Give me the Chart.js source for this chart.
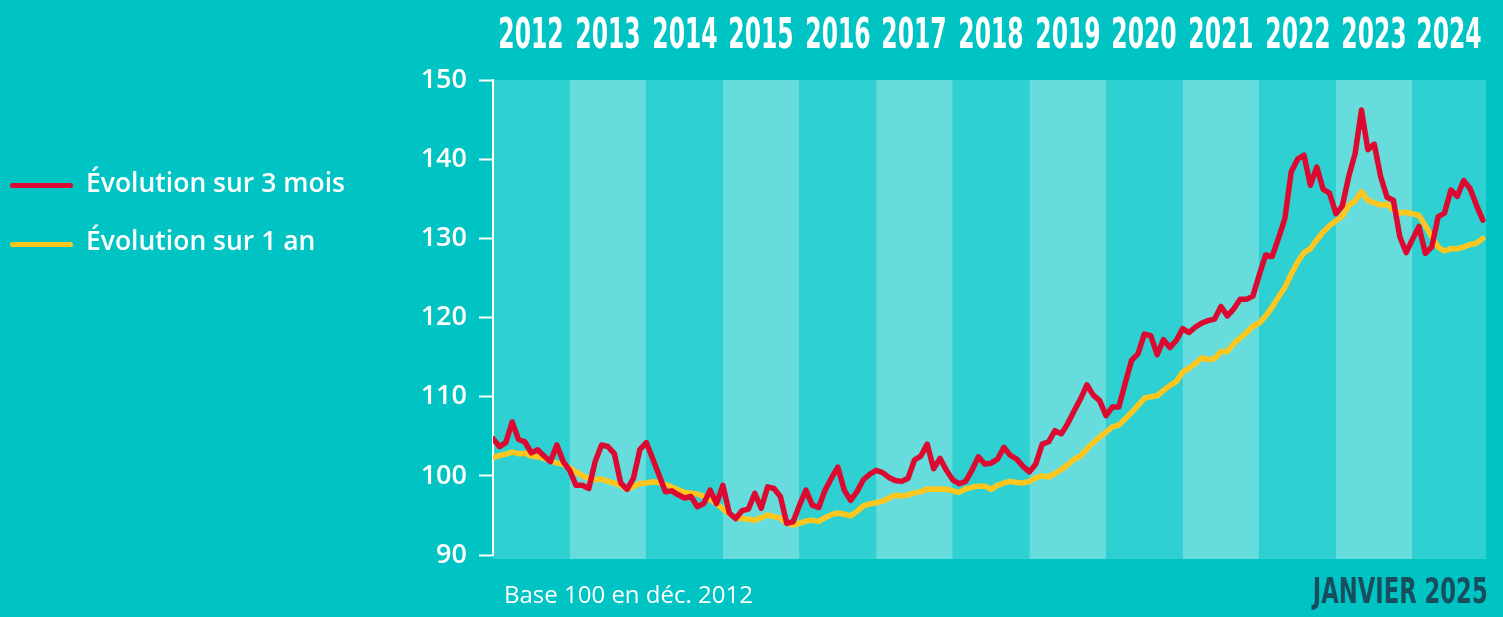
<!DOCTYPE html>
<html lang="fr">
<head>
<meta charset="utf-8">
<title>Évolution</title>
<script src="https://cdn.jsdelivr.net/npm/chart.js"></script>
<style>
html, body { margin: 0; padding: 0; background: #00c4c4; }
#wrap { position: relative; width: 1503px; height: 617px; overflow: hidden; font-family: "Open Sans", sans-serif; color: #fff; }
#wrap canvas { position: absolute; left: 0; top: 0; }
.legline { position: absolute; left: 10px; width: 63px; height: 5px; border-radius: 3px; }
.legtxt { position: absolute; left: 86px; font-size: 26.5px; font-weight: 600; line-height: 30px; white-space: nowrap; }
.cond { position: absolute; font-family: "DejaVu Sans", sans-serif; font-weight: bold; white-space: nowrap; }
.year { top: 13px; width: 120px; text-align: center; font-size: 42px; line-height: 42px; transform: scaleX(0.56); transform-origin: center center; }
#date { right: 15px; top: 573px; font-size: 36px; line-height: 36px; color: #174d5d; transform: scaleX(0.63); transform-origin: right center; }
#base { position: absolute; left: 504px; top: 582px; font-size: 24px; line-height: 24px; white-space: nowrap; }
</style>
</head>
<body>
<div id="wrap">
  <canvas id="myChart" width="1503" height="617"></canvas>
  <div class="legline" style="top:182.5px;background:#dc0a30"></div>
  <div class="legtxt" style="top:167px">Évolution sur 3 mois</div>
  <div class="legline" style="top:241.5px;background:#ffc61e"></div>
  <div class="legtxt" style="top:225px">Évolution sur 1 an</div>
  <div id="base">Base 100 en déc. 2012</div>
  <div id="date" class="cond">JANVIER 2025</div>
</div>
<script>
var years = ['2012','2013','2014','2015','2016','2017','2018','2019','2020','2021','2022','2023','2024']

// indice mensuel, évolution sur 3 mois (déc. 2012 = 100)
var evol3mois = [
  104.7,103.7,104.2,106.8,104.6,104.3,102.9,103.3,102.5,101.8,103.9,101.8,
  100.7,98.8,98.8,98.4,101.8,103.9,103.7,102.8,99.1,98.3,99.7,103.3,
  104.2,102.2,100.1,98.0,98.1,97.6,97.2,97.4,96.1,96.5,98.2,96.5,
  98.8,95.3,94.6,95.6,95.8,97.8,95.9,98.6,98.4,97.4,94.0,94.2,
  96.3,98.2,96.3,96.0,98.2,99.7,101.1,98.2,96.9,98.0,99.5,100.2,
  100.7,100.4,99.8,99.4,99.3,99.7,102.0,102.5,104.0,100.9,102.2,100.7,
  99.5,99.0,99.3,100.7,102.4,101.5,101.6,102.1,103.6,102.6,102.1,101.2,
  100.5,101.5,104.0,104.3,105.7,105.3,106.6,108.2,109.7,111.5,110.2,109.5,
  107.6,108.7,108.7,111.7,114.6,115.4,117.9,117.7,115.3,117.2,116.2,117.1,
  118.6,118.1,118.8,119.3,119.6,119.8,121.4,120.2,121.1,122.3,122.3,122.7,
  125.4,127.9,127.7,130.0,132.5,138.4,140.0,140.5,136.7,139.0,136.2,135.7,
  133.1,134.1,137.8,140.7,146.2,141.2,141.9,137.8,135.2,134.8,130.2,128.2,
  129.9,131.5,128.1,128.9,132.7,133.2,136.1,135.3,137.3,136.3,134.2,132.3
]

// évolution sur 1 an
var evol1an = [
  102.3,102.55,102.75,103.0,102.8,102.85,102.5,102.4,102.2,101.9,101.6,101.45,
  101.0,100.5,100.0,99.65,99.5,99.6,99.3,99.1,98.8,98.3,98.65,99.05,
  99.1,99.25,99.15,98.9,98.6,98.25,97.9,97.8,97.7,97.4,97.0,96.5,
  95.8,95.2,94.7,94.6,94.5,94.4,94.7,95.05,94.85,94.65,94.0,93.8,
  94.0,94.3,94.4,94.25,94.7,95.1,95.3,95.15,94.95,95.5,96.2,96.45,
  96.6,96.8,97.2,97.55,97.45,97.6,97.85,98.0,98.35,98.3,98.35,98.3,
  98.1,97.9,98.35,98.55,98.7,98.7,98.3,98.8,99.1,99.3,99.15,99.1,
  99.3,99.75,100.0,99.85,100.3,100.8,101.4,102.1,102.5,103.4,104.2,104.9,
  105.5,106.2,106.4,107.2,108.0,108.9,109.8,110.0,110.1,110.8,111.4,111.9,
  113.1,113.6,114.2,114.9,114.7,114.8,115.7,115.7,116.7,117.4,118.1,118.9,
  119.3,120.2,121.3,122.6,123.8,125.5,127.0,128.2,128.7,129.8,130.8,131.6,
  132.2,132.8,134.2,134.7,135.9,134.8,134.5,134.2,134.3,133.6,133.2,133.3,
  133.1,132.9,131.6,130.2,128.9,128.4,128.7,128.7,128.9,129.2,129.4,130.0
]

var yMin = 90, yMax = 150, yStep = 10
var xMax = 155.5

const bandes = {
  id: 'bandes',
  beforeDraw(chart) {
    const ctx = chart.ctx, x = chart.scales.x, area = chart.chartArea
    ctx.save()
    for (let k = 0; k < years.length; k++) {
      const x0 = x.getPixelForValue(12 * k)
      const x1 = x.getPixelForValue(Math.min(12 * k + 12, xMax))
      ctx.fillStyle = k % 2 ? '#67dcdc' : '#2ed0d2'
      ctx.fillRect(x0, area.top, x1 - x0, area.bottom - area.top + 4)
    }
    ctx.restore()
  },
  afterRender(chart) {
    const x = chart.scales.x
    const wrap = document.getElementById('wrap')
    if (wrap.querySelector('.year')) return
    years.forEach((an, k) => {
      const c = (x.getPixelForValue(12 * k) + x.getPixelForValue(Math.min(12 * k + 12, xMax))) / 2
      const d = document.createElement('div')
      d.className = 'cond year'
      d.style.left = (c - 60) + 'px'
      d.textContent = an
      wrap.appendChild(d)
    })
  }
}

const ctx = document.getElementById('myChart').getContext('2d')
const myChart = new Chart(ctx, {
  type: 'line',
  data: {
    datasets: [{
      label: 'Évolution sur 3 mois',
      data: evol3mois.map((v, i) => ({ x: i, y: v })),
      borderColor: '#dc0a30',
      borderWidth: 5.5
    }, {
      label: 'Évolution sur 1 an',
      data: evol1an.map((v, i) => ({ x: i, y: v })),
      borderColor: '#ffc61e',
      borderWidth: 5.5
    }]
  },
  options: {
    responsive: false,
    animation: false,
    layout: { padding: { left: 423, right: 17, top: 80, bottom: 62 } },
    elements: {
      point: { radius: 0 },
      line: { tension: 0, borderJoinStyle: 'round', borderCapStyle: 'round' }
    },
    plugins: { legend: { display: false }, tooltip: { enabled: false } },
    scales: {
      x: { type: 'linear', min: 0, max: xMax, display: false },
      y: {
        min: yMin, max: yMax,
        ticks: {
          stepSize: yStep, color: '#fff', padding: 12,
          font: { family: '"Open Sans"', size: 27, weight: '600' }
        },
        grid: { drawOnChartArea: false, tickLength: 14, tickWidth: 2, tickColor: '#fff' },
        border: { color: '#fff', width: 2 },
        afterFit(scale) { scale.width = 70 }
      }
    }
  },
  plugins: [bandes]
})
</script>
</body>
</html>
